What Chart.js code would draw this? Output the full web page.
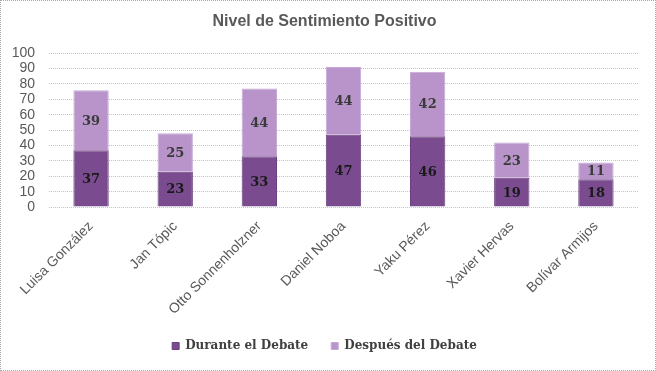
<!DOCTYPE html>
<html>
<head>
<meta charset="utf-8">
<script src="https://cdn.jsdelivr.net/npm/chart.js@4.4.0/dist/chart.umd.min.js"></script>
<style>
  html, body { margin:0; padding:0; background:#fff; }
  #box { width:656px; height:371px; box-sizing:border-box; border:1px dotted #a6a6a6; }
  #c { display:block; }
</style>
</head>
<body>
<div id="box"><canvas id="c" width="654" height="369"></canvas></div>
<script>
const CANDIDATOS = ["Luisa González","Jan Tópic","Otto Sonnenholzner","Daniel Noboa","Yaku Pérez","Xavier Hervas","Bolívar Armijos"];
const DURANTE = [37, 23, 33, 47, 46, 19, 18];
const DESPUES = [39, 25, 44, 44, 42, 23, 11];
const SERIES = ["Durante el Debate", "Después del Debate"];
const Y_TICKS = [0,10,20,30,40,50,60,70,80,90,100];

const DARK = "#7a4c8f", LIGHT = "#b994ca";

// etiquetas centradas en cada segmento
const segLabels = {
  id: "segLabels",
  afterDatasetsDraw(chart){
    const ctx = chart.ctx;
    ctx.save();
    ctx.font = "bold 13px 'DejaVu Serif', serif";
    ctx.textAlign = "center";
    ctx.textBaseline = "middle";
    chart.data.datasets.forEach((ds, di) => {
      const meta = chart.getDatasetMeta(di);
      ctx.fillStyle = di === 0 ? "#1a1a1a" : "#3a3a3a";
      meta.data.forEach((bar, i) => {
        const p = bar.getProps(["x","y","base"], true);
        ctx.fillText(String(ds.data[i]), p.x, (p.y + p.base) / 2 + 1);
      });
    });
    ctx.restore();
  }
};

new Chart(document.getElementById("c"), {
  type: "bar",
  data: {
    labels: CANDIDATOS,
    datasets: [
      { label: SERIES[0], data: DURANTE, backgroundColor: DARK, borderColor: "#6c3f80", borderWidth: 1 },
      { label: SERIES[1], data: DESPUES, backgroundColor: LIGHT, borderColor: "#c7a8d6", borderWidth: 1 },
    ]
  },
  options: {
    responsive: false,
    animation: false,
    layout: { padding: { left: 10, right: 17, top: 0, bottom: 8 } },
    datasets: { bar: { barPercentage: 0.42, categoryPercentage: 1 } },
    plugins: {
      title: {
        display: true, text: "Nivel de Sentimiento Positivo",
        color: "#595959", font: { family: "'Liberation Sans', Arial, sans-serif", size: 16, weight: "bold" },
        padding: { top: 11, bottom: 22 }
      },
      legend: {
        position: "bottom",
        labels: {
          boxWidth: 7, boxHeight: 7, padding: 23, color: "#404040",
          font: { family: "'DejaVu Serif', serif", size: 12, weight: "bold" }
        }
      },
      tooltip: { enabled: false }
    },
    scales: {
      x: {
        stacked: true,
        grid: { display: false },
        border: { display: false },
        afterFit(s){ s.height -= 4; },
        ticks: { color: "#595959", minRotation: 45, maxRotation: 45, padding: 3,
                 font: { family: "'Liberation Sans', Arial, sans-serif", size: 14 } }
      },
      y: {
        stacked: true, min: 0, max: 100,
        afterBuildTicks(s){ s.ticks = Y_TICKS.map(v => ({ value: v })); },
        afterFit(s){ s.width = 38; },
        grid: { color: "#c4c4c4", lineWidth: 1, drawTicks: false },
        border: { display: false, dash: [1, 1] },
        ticks: { color: "#595959", padding: 14, autoSkip: false,
                 font: { family: "'Liberation Sans', Arial, sans-serif", size: 14 } }
      }
    }
  },
  plugins: [segLabels]
});
</script>
</body>
</html>
